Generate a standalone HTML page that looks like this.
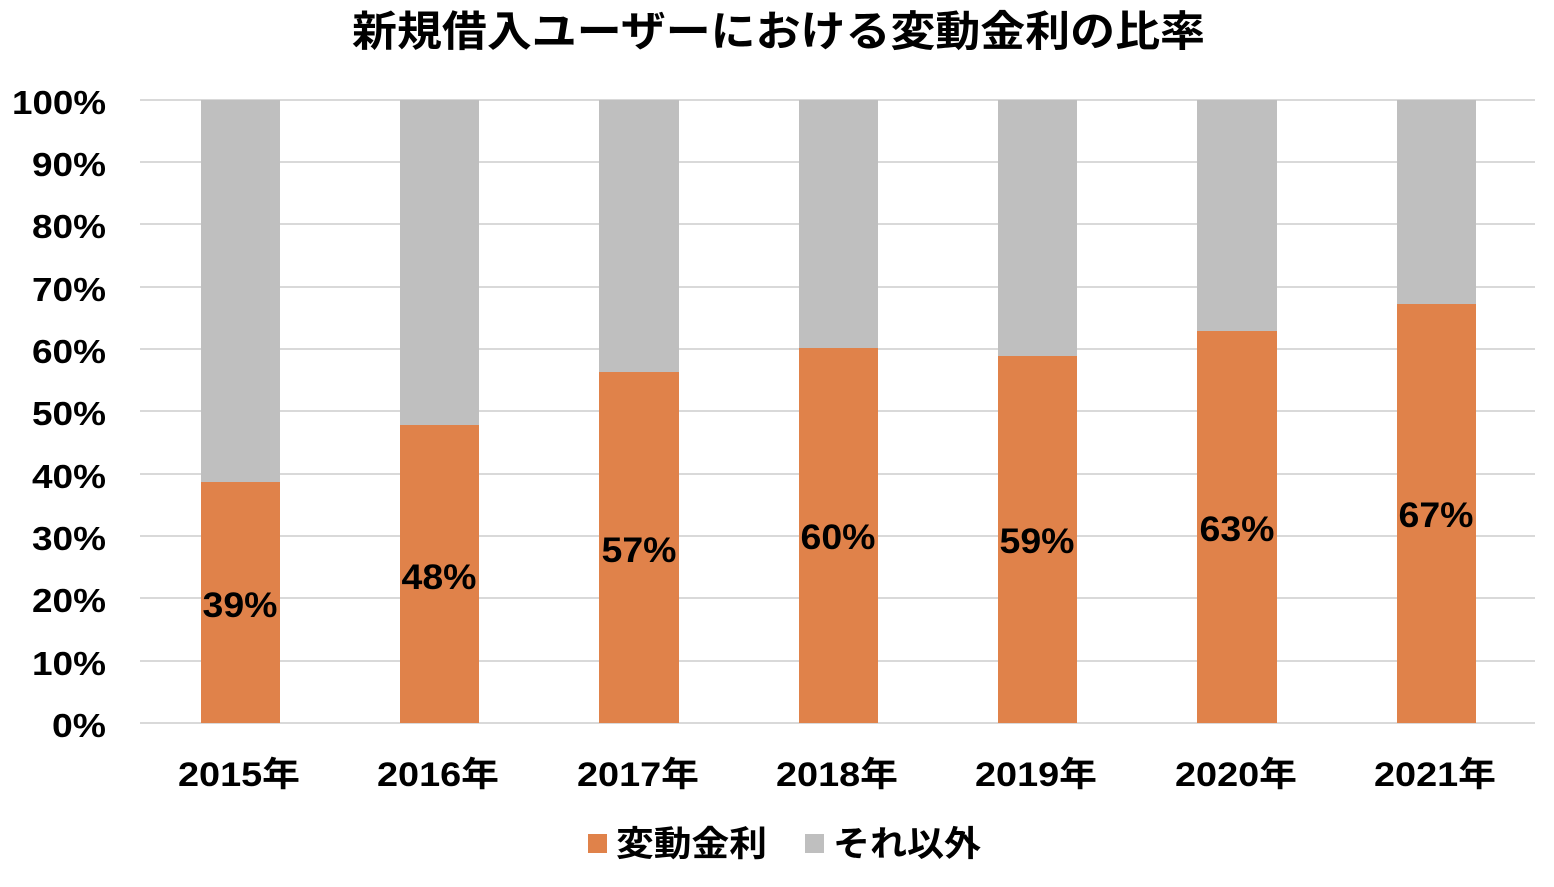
<!DOCTYPE html>
<html><head><meta charset="utf-8"><style>
body{margin:0;background:#fff}
text{font-family:"Liberation Sans","Noto Sans CJK JP",sans-serif;font-weight:bold;fill:#000}
</style></head><body>
<svg width="1554" height="882" xmlns="http://www.w3.org/2000/svg">
<text x="352" y="46" font-size="42" textLength="853" lengthAdjust="spacingAndGlyphs">新規借入ユーザーにおける変動金利の比率</text>
<g stroke="#d9d9d9" stroke-width="2">
<line x1="140" x2="1535" y1="100" y2="100"/><line x1="140" x2="1535" y1="162" y2="162"/>
<line x1="140" x2="1535" y1="224" y2="224"/><line x1="140" x2="1535" y1="287" y2="287"/>
<line x1="140" x2="1535" y1="349" y2="349"/><line x1="140" x2="1535" y1="411" y2="411"/>
<line x1="140" x2="1535" y1="474" y2="474"/><line x1="140" x2="1535" y1="536" y2="536"/>
<line x1="140" x2="1535" y1="598" y2="598"/><line x1="140" x2="1535" y1="661" y2="661"/>
<line x1="140" x2="1535" y1="723" y2="723"/>
</g>
<g font-size="33" text-anchor="end">
<text x="106" y="114" textLength="94" lengthAdjust="spacingAndGlyphs">100%</text>
<text x="106" y="176" textLength="74" lengthAdjust="spacingAndGlyphs">90%</text>
<text x="106" y="238" textLength="74" lengthAdjust="spacingAndGlyphs">80%</text>
<text x="106" y="301" textLength="74" lengthAdjust="spacingAndGlyphs">70%</text>
<text x="106" y="363" textLength="74" lengthAdjust="spacingAndGlyphs">60%</text>
<text x="106" y="425" textLength="74" lengthAdjust="spacingAndGlyphs">50%</text>
<text x="106" y="488" textLength="74" lengthAdjust="spacingAndGlyphs">40%</text>
<text x="106" y="550" textLength="74" lengthAdjust="spacingAndGlyphs">30%</text>
<text x="106" y="612" textLength="74" lengthAdjust="spacingAndGlyphs">20%</text>
<text x="106" y="675" textLength="74" lengthAdjust="spacingAndGlyphs">10%</text>
<text x="106" y="737" textLength="54" lengthAdjust="spacingAndGlyphs">0%</text>
</g>
<g fill="#bfbfbf">
<rect x="201" y="100" width="79" height="623"/><rect x="400" y="100" width="79" height="623"/>
<rect x="599" y="100" width="80" height="623"/><rect x="799" y="100" width="79" height="623"/>
<rect x="998" y="100" width="79" height="623"/><rect x="1197" y="100" width="80" height="623"/>
<rect x="1397" y="100" width="79" height="623"/>
</g>
<g fill="#e0824a">
<rect x="201" y="482" width="79" height="241"/><rect x="400" y="425" width="79" height="298"/>
<rect x="599" y="372" width="80" height="351"/><rect x="799" y="348" width="79" height="375"/>
<rect x="998" y="356" width="79" height="367"/><rect x="1197" y="331" width="80" height="392"/>
<rect x="1397" y="304" width="79" height="419"/>
</g>
<g font-size="35" text-anchor="middle">
<text x="240" y="617" textLength="75" lengthAdjust="spacingAndGlyphs">39%</text>
<text x="439" y="589" textLength="75" lengthAdjust="spacingAndGlyphs">48%</text>
<text x="639" y="562" textLength="75" lengthAdjust="spacingAndGlyphs">57%</text>
<text x="838" y="549" textLength="75" lengthAdjust="spacingAndGlyphs">60%</text>
<text x="1037" y="553" textLength="75" lengthAdjust="spacingAndGlyphs">59%</text>
<text x="1237" y="541" textLength="75" lengthAdjust="spacingAndGlyphs">63%</text>
<text x="1436" y="527" textLength="75" lengthAdjust="spacingAndGlyphs">67%</text>
</g>
<g font-size="34" text-anchor="middle">
<text x="239" y="786" textLength="122" lengthAdjust="spacingAndGlyphs">2015年</text>
<text x="438" y="786" textLength="122" lengthAdjust="spacingAndGlyphs">2016年</text>
<text x="638" y="786" textLength="122" lengthAdjust="spacingAndGlyphs">2017年</text>
<text x="837" y="786" textLength="122" lengthAdjust="spacingAndGlyphs">2018年</text>
<text x="1036" y="786" textLength="122" lengthAdjust="spacingAndGlyphs">2019年</text>
<text x="1236" y="786" textLength="122" lengthAdjust="spacingAndGlyphs">2020年</text>
<text x="1435" y="786" textLength="122" lengthAdjust="spacingAndGlyphs">2021年</text>
</g>
<rect x="588" y="834" width="19" height="19" fill="#e0824a"/>
<text x="616" y="856" font-size="35" textLength="151" lengthAdjust="spacingAndGlyphs">変動金利</text>
<rect x="805" y="834" width="19" height="19" fill="#bfbfbf"/>
<text x="833" y="856" font-size="35" textLength="148" lengthAdjust="spacingAndGlyphs">それ以外</text>
</svg>
</body></html>
